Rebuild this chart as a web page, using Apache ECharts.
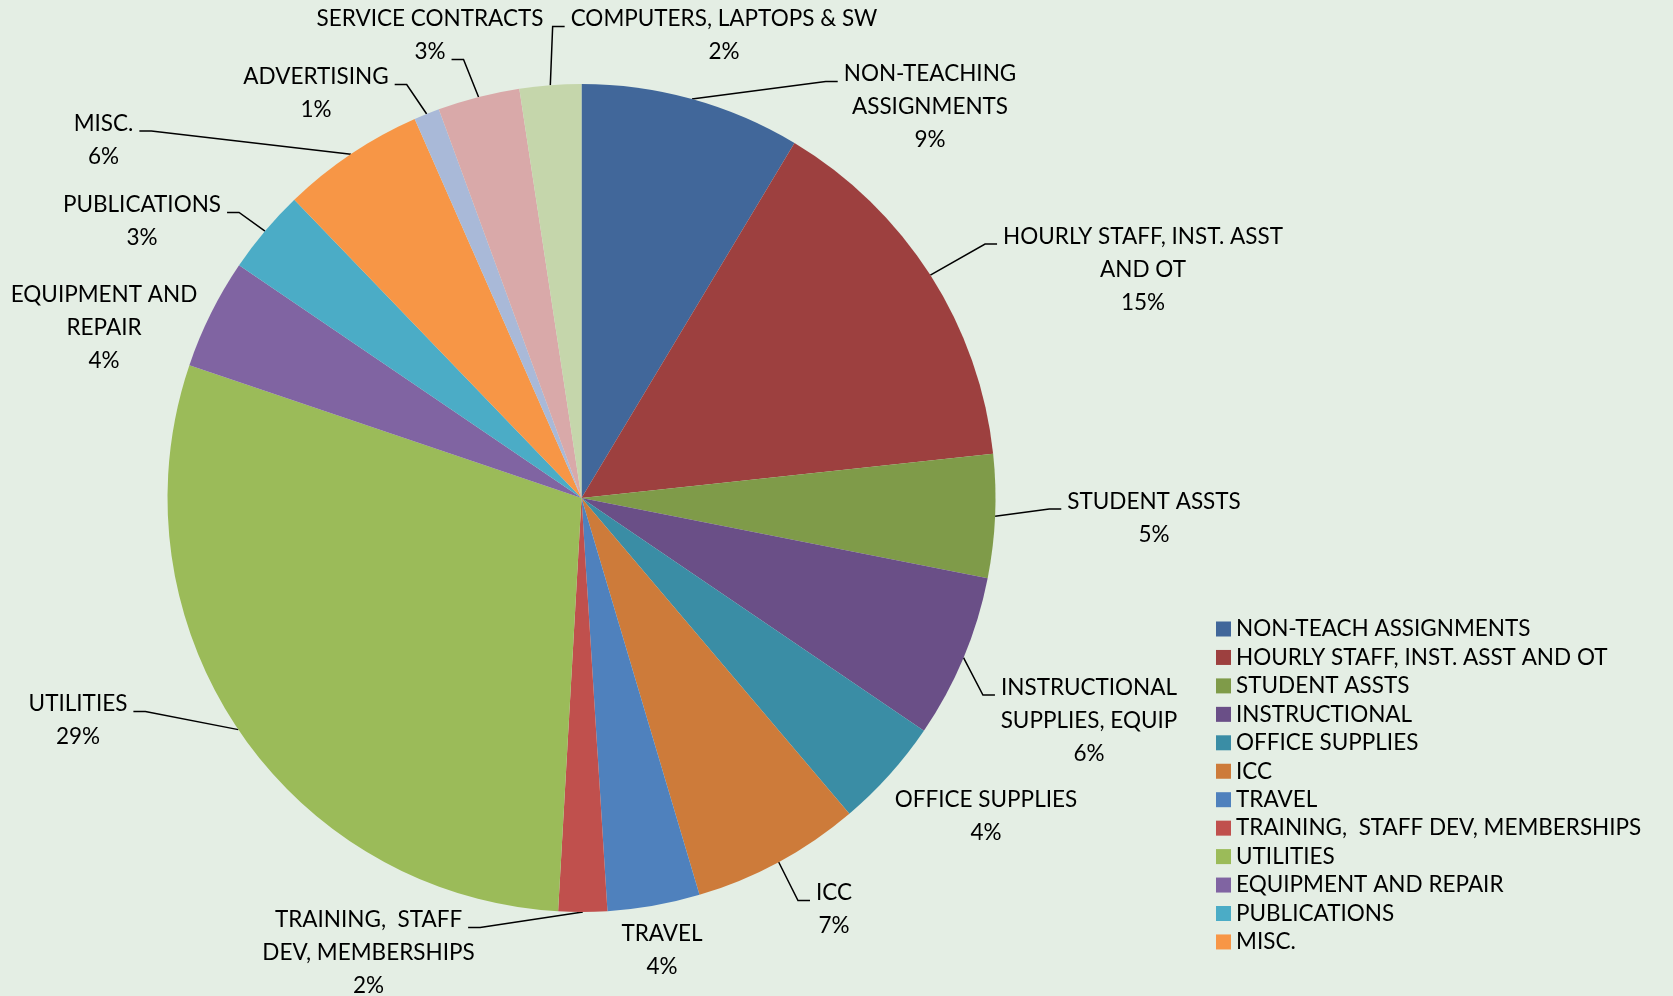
<!DOCTYPE html>
<html>
<head>
<meta charset="utf-8">
<script src="https://cdn.jsdelivr.net/npm/echarts@6/dist/echarts.min.js"></script>
<style>
html,body{margin:0;padding:0;background:#E4EEE4;}
#chart{width:1673px;height:996px;}
</style>
</head>
<body>
<div id="chart"></div>
<script>
// ---- data ----
const categories = [
  'NON-TEACH ASSIGNMENTS',
  'HOURLY STAFF, INST. ASST AND OT',
  'STUDENT ASSTS',
  'INSTRUCTIONAL',
  'OFFICE SUPPLIES',
  'ICC',
  'TRAVEL',
  'TRAINING,  STAFF DEV, MEMBERSHIPS',
  'UTILITIES',
  'EQUIPMENT AND REPAIR',
  'PUBLICATIONS',
  'MISC.',
  'ADVERTISING',
  'SERVICE CONTRACTS',
  'COMPUTERS, LAPTOPS & SW'
];
const labelNames = [
  'NON-TEACHING\nASSIGNMENTS',
  'HOURLY STAFF, INST. ASST\nAND OT',
  'STUDENT ASSTS',
  'INSTRUCTIONAL\nSUPPLIES, EQUIP',
  'OFFICE SUPPLIES',
  'ICC',
  'TRAVEL',
  'TRAINING,  STAFF\nDEV, MEMBERSHIPS',
  'UTILITIES',
  'EQUIPMENT AND\nREPAIR',
  'PUBLICATIONS',
  'MISC.',
  'ADVERTISING',
  'SERVICE CONTRACTS',
  'COMPUTERS, LAPTOPS & SW'
];
const values = [8.6, 14.7, 4.8, 6.4, 4.3, 6.6, 3.6, 1.9, 29.3, 4.3, 3.3, 5.6, 1.0, 3.2, 2.4];
const legendNames = categories.slice(0, 12);

// ---- styles / layout ----
const colors = ['#41679A','#9D403F','#7F9B49','#6A4F87','#3A8DA5','#CD7B3A','#4F81BD','#C0504D',
                '#9BBB59','#8064A2','#4BACC6','#F79646','#A9B9D8','#D9A9A9','#C5D6AB'];
const FONT = 'Lato';
const FS = 22.5;
const LH = 33;
const BASE = 7.5;   // leader height relative to line centre
const GAP = 6;      // gap between leader end and text
const SEG = 12;     // horizontal leader segment
// [text centre x, first line centre y, leader side (L/R/N), line the leader points to]
const labelPlacement = [
  [930, 74, 'L', 0],
  [1143, 236.5, 'L', 0],
  [1154, 501.5, 'L', 0],
  [1089, 687.5, 'L', 0],
  [986, 800, 'N', 0],
  [834, 893, 'L', 0],
  [662, 934, 'N', 0],
  [368.5, 920, 'R', 0],
  [78, 704, 'R', 0],
  [104, 295, 'N', 0],
  [142, 205, 'R', 0],
  [103.5, 123.5, 'R', 0],
  [316, 77, 'R', 0],
  [430, 19, 'R', 1],
  [724, 19, 'L', 0]
];

const total = values.reduce((a, b) => a + b, 0);
function labelText(i) {
  return labelNames[i] + '\n' + Math.round(values[i] / total * 100) + '%';
}
const mctx = document.createElement('canvas').getContext('2d');
function textW(s) { mctx.font = FS + 'px ' + FONT; return mctx.measureText(s).width; }

const chart = echarts.init(document.getElementById('chart'), null, {renderer: 'canvas'});
chart.setOption({
  backgroundColor: '#E4EEE4',
  animation: false,
  color: colors,
  legend: {
    data: legendNames,
    orient: 'vertical',
    left: 1211,
    top: 612,
    itemWidth: 15,
    itemHeight: 15,
    itemGap: 4.45,
    icon: 'rect',
    textStyle: {fontFamily: FONT, fontSize: FS, color: '#000', lineHeight: 24}
  },
  series: [{
    type: 'pie',
    center: [581.5, 498],
    radius: 414,
    startAngle: 90,
    clockwise: true,
    avoidLabelOverlap: false,
    data: categories.map((c, i) => ({name: c, value: values[i]})),
    itemStyle: {borderWidth: 0},
    label: {
      show: true,
      position: 'outside',
      formatter: p => labelText(p.dataIndex),
      fontFamily: FONT,
      fontSize: FS,
      lineHeight: LH,
      color: '#000'
    },
    labelLine: {
      show: true,
      length: 20,
      length2: 10,
      maxSurfaceAngle: 180,
      lineStyle: {color: '#000', width: 1.5}
    },
    labelLayout: function (p) {
      const i = p.dataIndex;
      const pl = labelPlacement[i];
      const cx = pl[0], y0 = pl[1], side = pl[2], li = pl[3];
      const lines = labelText(i).split('\n');
      const res = {x: cx, y: y0 - LH / 2, align: 'center', verticalAlign: 'top'};
      const pts = p.labelLinePoints;
      if (pts && pts[0]) {
        const e = [pts[0][0], pts[0][1]];
        if (side === 'N') {
          res.labelLinePoints = [e, e.slice(), e.slice()];
        } else {
          const w = textW(lines[li]);
          const ly = y0 + li * LH + BASE;
          const ex = side === 'L' ? cx - w / 2 - GAP : cx + w / 2 + GAP;
          const bx = side === 'L' ? ex - SEG : ex + SEG;
          res.labelLinePoints = [e, [bx, ly], [ex, ly]];
        }
      }
      return res;
    }
  }]
});
</script>
</body>
</html>
